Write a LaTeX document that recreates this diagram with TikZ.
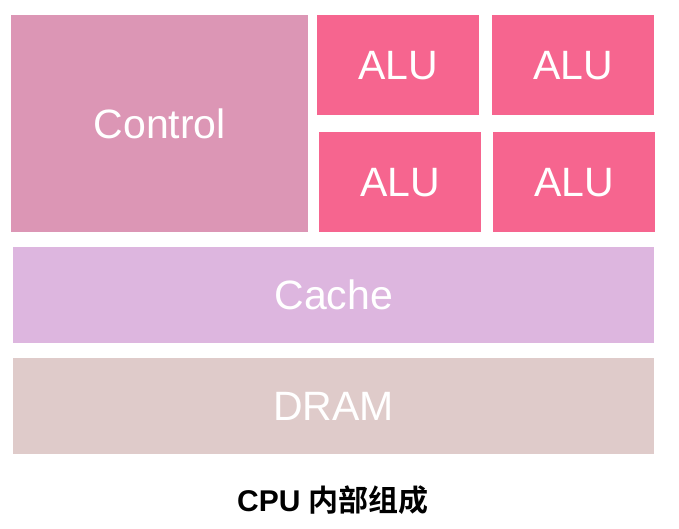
\documentclass[tikz,border=0pt]{standalone}
\usepackage{fontspec}
\setmainfont{Liberation Sans}
\newfontfamily\cjkfont{Noto Sans CJK SC}[BoldFont={* Bold}]
\definecolor{ctrlc}{RGB}{220,150,181}
\definecolor{aluc}{RGB}{246,101,143}
\definecolor{cachec}{RGB}{221,182,223}
\definecolor{dramc}{RGB}{223,203,202}
\begin{document}
\begin{tikzpicture}[x=1pt,y=-1pt,
  blk/.style={anchor=north west,inner sep=0pt,text=white,
    font=\fontsize{41}{41}\selectfont},
  captxt/.style={font=\fontsize{30}{30}\selectfont\bfseries}]
\useasboundingbox[fill=white] (0,0) rectangle (679,528);
\node[blk,fill=ctrlc,minimum width=297pt,minimum height=217pt] (ctrl) at (11,15) {Control};
\node[blk,fill=aluc,minimum width=162pt,minimum height=100pt] (alu1) at (317,15) {ALU};
\node[blk,fill=aluc,minimum width=162pt,minimum height=100pt] (alu2) at (492,15) {ALU};
\node[blk,fill=aluc,minimum width=162pt,minimum height=100pt] (alu3) at (319,132) {ALU};
\node[blk,fill=aluc,minimum width=162pt,minimum height=100pt] (alu4) at (493,132) {ALU};
\node[blk,fill=cachec,minimum width=641pt,minimum height=96pt] (cache) at (13,247) {Cache};
\node[blk,fill=dramc,minimum width=641pt,minimum height=96pt] (dram) at (13,358) {DRAM};
\node[captxt,inner sep=0pt] (caption) at (333,500) {CPU {\cjkfont\bfseries 内部组成}};
\end{tikzpicture}
\end{document}
